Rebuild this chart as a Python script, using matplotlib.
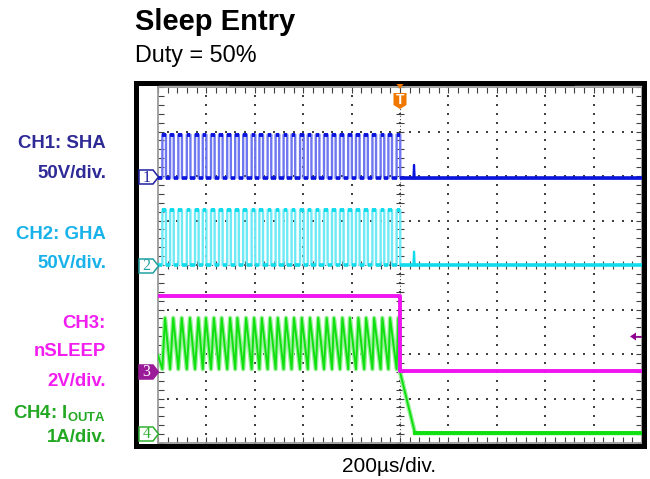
import numpy as np
import matplotlib.pyplot as plt
from matplotlib.patches import Polygon, Rectangle

plt.rcParams['font.family'] = ['Liberation Sans', 'DejaVu Sans']
plt.rcParams['mathtext.fontset'] = 'custom'
plt.rcParams['mathtext.rm'] = 'Liberation Sans'
plt.rcParams['mathtext.bf'] = 'Liberation Sans:bold'

# --- values (time in us, 0 = trigger at centre) ---
us_per_div = 200
pwm_rise_us = [-982, -950, -916, -881, -847, -815, -781, -748, -714, -681,
               -648, -613, -581, -547, -514, -481, -448, -413, -381, -348,
               -314, -281, -248, -214, -182, -148, -114, -80, -48, -14]
pulse_width_us = 15
spike_us = 58

# CH1 SHA, 50 V/div
sha_offset_div = 5.95
sha_high_v = 49
sha_spike_v = 15
# CH2 GHA, 50 V/div
gha_offset_div = 4.0
gha_high_v = 62
gha_spike_v = 15
# CH3 nSLEEP, 2 V/div
slp_offset_div = 1.6
slp_high_v = 3.4
slp_low_v = 0.05
# CH4 IOUTA, 1 A/div
iout_offset_div = 0.22
iout_peak_us = [-971, -937, -902, -868, -833, -802, -769, -737, -702, -672,
                -636, -603, -571, -537, -505, -471, -438, -406, -372, -338,
                -303, -273, -238, -207, -172, -140, -107, -73, -41, -7]
iout_peak_a = 2.59
iout_trough_a = 1.44
iout_start_a = 1.75
iout_at_trig_a = 1.38
iout_zero_us = 62

ch_labels = [("CH1: SHA", 143, '#2E2A96'), ("50V/div.", 173, '#2E2A96'),
             ("CH2: GHA", 234, '#18B2EA'), ("50V/div.", 263, '#18B2EA'),
             ("CH3:", 324, '#F21EF0'), ("nSLEEP", 352, '#F21EF0'),
             ("2V/div.", 381, '#F21EF0'),
             (r"CH4: I$_{\mathbf{OUTA}}$", 414, '#22A822'), ("1A/div.", 438, '#22A822')]

W, H = 650, 479
fig = plt.figure(figsize=(W / 100, H / 100), dpi=100)
gx0, gx1, gy0, gy1 = 158, 642, 87, 443
ax = fig.add_axes([gx0 / W, 1 - gy1 / H, (gx1 - gx0) / W, (gy1 - gy0) / H])
ax.set_xlim(-5 * us_per_div, 5 * us_per_div)
ax.set_ylim(0, 8)

# graticule
for s in ax.spines.values():
    s.set_color('#9a9a9a')
    s.set_linewidth(1.3)
ax.set_xticks(np.arange(-1000, 1001, 40))
ax.set_yticks(np.arange(0, 8.01, 0.2))
ax.tick_params(direction='in', length=4, width=0.8, color='#404040',
               top=True, right=True, labelbottom=False, labelleft=False)
gx = np.arange(-800, 801, 200)
gy = np.arange(1, 8)
dx = np.arange(-1000, 1001, 40)
dy = np.arange(0, 8.01, 0.2)
X1, Y1 = np.meshgrid(gx, dy)
X2, Y2 = np.meshgrid(dx, gy)
ax.scatter(X1.ravel(), Y1.ravel(), s=1.6, marker='s', color='#404040', lw=0, zorder=1)
ax.scatter(X2.ravel(), Y2.ravel(), s=1.6, marker='s', color='#404040', lw=0, zorder=1)
# centre cross with minor ticks
ax.axvline(0, color='#505050', lw=0.8, ls=(0, (1, 2)), zorder=1)
ax.axhline(4, color='#505050', lw=0.8, ls=(0, (1, 2)), zorder=1)
ax.plot(np.zeros_like(dy), dy, ls='none', marker='_', ms=6, mew=0.8, color='#404040', zorder=1)
ax.plot(dx, np.full(len(dx), 4.0), ls='none', marker='|', ms=6, mew=0.8,
        color='#404040', zorder=1)

rise = np.array(pwm_rise_us, dtype=float)
fall = rise + pulse_width_us


def switch_trace(offset, high_v, spike_v, dark, light):
    lo = offset
    hi = offset + high_v / 50.0
    t = [-1000]
    v = [lo]
    for r, f in zip(rise, fall):
        t += [r, r, f, f]
        v += [lo, hi, hi, lo]
    t += [spike_us - 3, spike_us, spike_us + 3, 1000]
    v += [lo, lo + spike_v / 50.0, lo, lo]
    ax.plot(t, v, color=light, lw=1.7, zorder=3)
    ax.hlines(np.full(len(rise), hi), rise, fall, color=dark, lw=2.8, zorder=4)
    ax.hlines(np.full(len(rise) + 1, lo), np.r_[-1000, fall], np.r_[rise, 1000],
              color=dark, lw=2.6, zorder=4)
    ax.plot([spike_us - 2, spike_us, spike_us + 2], [lo, lo + spike_v / 50.0, lo],
            color=dark, lw=1.3, zorder=4)


switch_trace(sha_offset_div, sha_high_v, sha_spike_v, '#0A14DC', '#6E76F0')
switch_trace(gha_offset_div, gha_high_v, gha_spike_v, '#12DCEC', '#6EEAF6')

# CH3 nSLEEP
ax.plot([-1000, 0, 0, 1000],
        [slp_offset_div + slp_high_v / 2, slp_offset_div + slp_high_v / 2,
         slp_offset_div + slp_low_v / 2, slp_offset_div + slp_low_v / 2],
        color='#F014F0', lw=2.8, zorder=5)

# CH4 current
ti = [-1000]
vi = [iout_start_a]
for r, p in zip(rise, iout_peak_us):
    ti += [r, p]
    vi += [iout_trough_a, iout_peak_a]
ti += [0, iout_zero_us, 1000]
vi += [iout_at_trig_a, 0, 0]
vi = iout_offset_div + np.array(vi)
ax.plot(ti, vi, color='#9CF09C', lw=3.2, zorder=2)
ax.plot(ti, vi, color='#10E010', lw=1.4, zorder=3)
ax.plot([iout_zero_us, 1000], [iout_offset_div, iout_offset_div], color='#10E010', lw=2.8, zorder=3)

# --- overlay in pixel coordinates ---
ov = fig.add_axes([0, 0, 1, 1], zorder=10)
ov.set_xlim(0, W)
ov.set_ylim(H, 0)
ov.axis('off')
ov.patch.set_alpha(0)

ov.add_patch(Rectangle((135.5, 82.5), 644 - 135.5, 445.5 - 82.5, fill=False,
                       lw=3.6, ec='black'))
ov.plot([159, 228], [85.5, 85.5], color='#b0b0b0', lw=1)
ov.plot([575, 641], [85.5, 85.5], color='#b0b0b0', lw=1)

# trigger marker
ov.add_patch(Polygon([(396.5, 84), (403.5, 84), (400, 89)], color='#F07800', lw=0))
ov.add_patch(Polygon([(393.5, 93), (406.5, 93), (406.5, 105), (400, 109), (393.5, 105)],
                     color='#F07800', lw=0))
ov.text(400, 100, "T", color='white', fontsize=10, fontweight='bold', ha='center', va='center')

# right-side purple arrow
ov.add_patch(Polygon([(630, 336.5), (636, 332.5), (636, 340.5)], color='#900090', lw=0))
ov.plot([635, 641], [336.5, 336.5], color='#900090', lw=1.2)


def ch_marker(yc, label, ec, fc, tc):
    pts = [(139, yc - 7), (153, yc - 7), (158.5, yc), (153, yc + 7), (139, yc + 7)]
    ov.add_patch(Polygon(pts, closed=True, fc=fc, ec=ec, lw=1.1))
    ov.text(146.5, yc + 0.5, label, color=tc, fontsize=11.5, ha='center', va='center',
            family='Liberation Serif')


ch_marker(177, "1", '#2020A0', 'white', '#2020A0')
ch_marker(266, "2", '#20A0A0', 'white', '#20A0A0')
ch_marker(372, "3", '#9A1A9A', '#9A1A9A', 'white')
ch_marker(434, "4", '#30B030', 'white', '#30B030')

for txt, yc, col in ch_labels:
    ov.text(106, yc, txt, color=col, fontsize=13.4, fontweight='bold', ha='right', va='center')

ov.text(135, 30, "Sleep Entry", fontsize=21, fontweight='bold', ha='left', va='baseline')
ov.text(135, 62, "Duty = 50%", fontsize=16.8, ha='left', va='baseline')
ov.text(389, 472, "200µs/div.", fontsize=15, ha='center', va='baseline')

fig.savefig('out.png', dpi=100)
